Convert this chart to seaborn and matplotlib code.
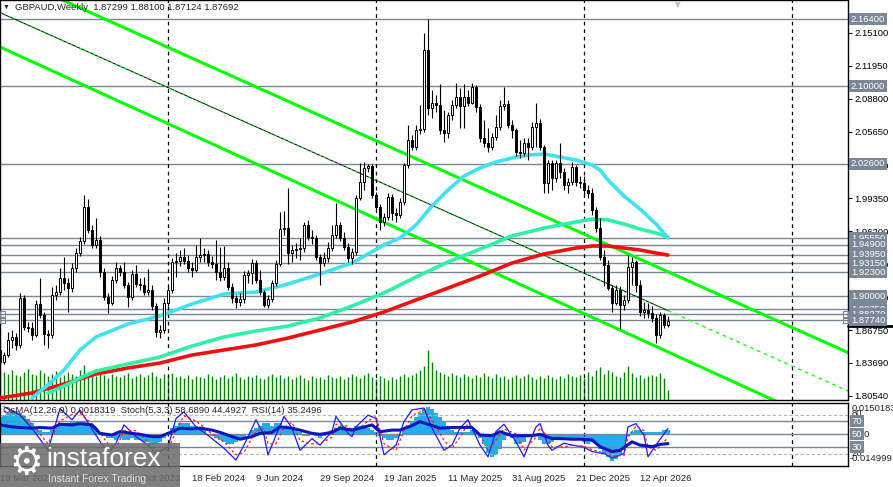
import numpy as np
import matplotlib
matplotlib.use("Agg")
import matplotlib.pyplot as plt
from matplotlib.patches import Rectangle
import seaborn as sns

sns.set_style("white")
plt.rcParams['font.family'] = ['Liberation Sans', 'DejaVu Sans']

# ---------------- data (weekly GBPAUD) ----------------
first_open = 1.8489
close = [
    1.8375, 1.8441, 1.8584, 1.8613, 1.8537, 1.8984, 1.8708, 1.8698, 1.8632, 1.8927,
    1.8822, 1.8641, 1.8632, 1.9013, 1.9041, 1.9174, 1.9127, 1.9079, 1.9270, 1.9412,
    1.9527, 1.9850, 1.9631, 1.9489, 1.9536, 1.9232, 1.8993, 1.8936, 1.9155, 1.9270,
    1.9232, 1.9108, 1.8993, 1.9213, 1.9117, 1.9108, 1.9041, 1.9060, 1.8908, 1.8660,
    1.8679, 1.8936, 1.9060, 1.9327, 1.9336, 1.9374, 1.9336, 1.9270, 1.9251, 1.9374,
    1.9393, 1.9403, 1.9327, 1.9308, 1.9232, 1.9184, 1.9270, 1.9089, 1.8984, 1.8946,
    1.8974, 1.9203, 1.9222, 1.9317, 1.9155, 1.9041, 1.8917, 1.8974, 1.9127, 1.9308,
    1.9641, 1.9650, 1.9412, 1.9441, 1.9450, 1.9460, 1.9679, 1.9565, 1.9555, 1.9374,
    1.9317, 1.9365, 1.9460, 1.9584, 1.9679, 1.9555, 1.9470, 1.9365, 1.9422, 1.9936,
    2.0088, 2.0222, 2.0241, 1.9965, 1.9850, 1.9708, 1.9755, 1.9946, 1.9793, 1.9774,
    1.9898, 2.0250, 2.0488, 2.0422, 2.0583, 2.0593, 2.1345, 2.0793, 2.0840, 2.0821,
    2.0583, 2.0555, 2.0726, 2.0821, 2.0897, 2.0812, 2.0897, 2.0840, 2.0993, 2.0802,
    2.0507, 2.0460, 2.0422, 2.0517, 2.0612, 2.0812, 2.0831, 2.0631, 2.0583, 2.0374,
    2.0364, 2.0460, 2.0422, 2.0612, 2.0650, 2.0422, 2.0079, 2.0269, 2.0126, 2.0269,
    2.0184, 2.0060, 2.0088, 2.0231, 2.0088, 2.0079, 2.0012, 1.9984, 1.9822, 1.9650,
    1.9374, 1.9298, 1.9079, 1.8936, 1.9060, 1.8917, 1.8965, 1.9279, 1.9327, 1.9108,
    1.8851, 1.8870, 1.8841, 1.8794, 1.8632, 1.8822, 1.87299, 1.87692]
high = [
    1.8537, 1.8470, 1.8660, 1.8679, 1.8651, 1.9032, 1.9013, 1.8756, 1.8756, 1.8965,
    1.9174, 1.8851, 1.8679, 1.9089, 1.9108, 1.9270, 1.9374, 1.9174, 1.9317, 1.9460,
    1.9565, 1.9965, 1.9927, 1.9679, 1.9746, 1.9574, 1.9270, 1.9032, 1.9193, 1.9327,
    1.9298, 1.9327, 1.9136, 1.9251, 1.9298, 1.9174, 1.9184, 1.9260, 1.9108, 1.8936,
    1.8727, 1.8984, 1.9098, 1.9365, 1.9412, 1.9441, 1.9460, 1.9393, 1.9327, 1.9489,
    1.9555, 1.9460, 1.9441, 1.9384, 1.9536, 1.9470, 1.9479, 1.9327, 1.9127, 1.9013,
    1.9032, 1.9241, 1.9251, 1.9355, 1.9346, 1.9251, 1.9060, 1.9013, 1.9155, 1.9346,
    1.9803, 1.9812, 2.0031, 1.9489, 1.9508, 1.9555, 1.9708, 1.9727, 1.9631, 1.9584,
    1.9403, 1.9422, 1.9517, 1.9679, 1.9888, 1.9708, 1.9612, 1.9508, 1.9460, 1.9965,
    2.0269, 2.0279, 2.0260, 2.0260, 1.9993, 1.9879, 1.9793, 1.9984, 1.9974, 1.9841,
    1.9936, 2.0269, 2.0631, 2.0536, 2.0631, 2.0821, 2.1507, 2.1640, 2.0964, 2.0917,
    2.1021, 2.0774, 2.0755, 2.0869, 2.1031, 2.0983, 2.1021, 2.0964, 2.1031, 2.1012,
    2.0831, 2.0679, 2.0602, 2.0555, 2.0726, 2.0869, 2.0993, 2.0869, 2.0679, 2.0602,
    2.0488, 2.0507, 2.0507, 2.0660, 2.0840, 2.0688, 2.0441, 2.0298, 2.0298, 2.0298,
    2.0460, 2.0222, 2.0126, 2.0279, 2.0250, 2.0145, 2.0145, 2.0060, 2.0031, 1.9850,
    1.9746, 1.9441, 1.9346, 1.9108, 1.9108, 1.9098, 1.9013, 1.9393, 1.9374, 1.9346,
    1.9155, 1.8946, 1.8936, 1.8908, 1.8832, 1.8851, 1.8841, 1.88100]
low = [
    1.8318, 1.8356, 1.8422, 1.8508, 1.8489, 1.8508, 1.8679, 1.8660, 1.8584, 1.8613,
    1.8794, 1.8537, 1.8508, 1.8603, 1.8965, 1.9013, 1.9060, 1.8851, 1.9041, 1.9232,
    1.9384, 1.9498, 1.9603, 1.9460, 1.9460, 1.9184, 1.8965, 1.8841, 1.8917, 1.9127,
    1.9193, 1.9079, 1.8898, 1.8965, 1.9089, 1.9060, 1.9013, 1.9013, 1.8870, 1.8613,
    1.8603, 1.8651, 1.8908, 1.9032, 1.9184, 1.9289, 1.9308, 1.9232, 1.9184, 1.9232,
    1.9327, 1.9327, 1.9289, 1.9270, 1.9155, 1.9146, 1.9155, 1.9060, 1.8936, 1.8889,
    1.8908, 1.8936, 1.9127, 1.9117, 1.9127, 1.9013, 1.8898, 1.8889, 1.8946, 1.9098,
    1.9289, 1.9584, 1.9308, 1.9327, 1.9365, 1.9346, 1.9422, 1.9536, 1.9498, 1.9346,
    1.9108, 1.9289, 1.9327, 1.9431, 1.9555, 1.9527, 1.9441, 1.9327, 1.9308, 1.9393,
    1.9917, 2.0012, 2.0184, 1.9936, 1.9822, 1.9631, 1.9669, 1.9727, 1.9727, 1.9708,
    1.9746, 1.9869, 2.0222, 2.0393, 2.0393, 2.0545, 2.0564, 2.0726, 2.0698, 2.0755,
    2.0545, 2.0469, 2.0507, 2.0679, 2.0793, 2.0602, 2.0602, 2.0812, 2.0831, 2.0755,
    2.0469, 2.0422, 2.0374, 2.0393, 2.0488, 2.0583, 2.0774, 2.0602, 2.0507, 2.0336,
    2.0317, 2.0336, 2.0298, 2.0393, 2.0422, 2.0393, 1.9984, 1.9984, 2.0012, 2.0088,
    2.0126, 2.0012, 1.9984, 2.0060, 2.0050, 2.0031, 1.9955, 1.9936, 1.9774, 1.9612,
    1.9346, 1.9098, 1.9060, 1.8851, 1.8917, 1.8689, 1.8870, 1.8936, 1.9108, 1.9041,
    1.8813, 1.8794, 1.8794, 1.8756, 1.8556, 1.8603, 1.8698, 1.87124]
volume = [
    30, 28, 26, 30, 25, 24, 28, 31, 26, 25, 30, 27, 24, 26, 29, 23, 25, 28, 26, 24, 30,
    35, 28, 26, 24, 27, 25, 22, 26, 24, 23, 25, 27, 22, 24, 26, 23, 25, 28, 24, 22, 26,
    25, 27, 23, 24, 22, 25, 21, 24, 23, 22, 26, 24, 21, 23, 25, 22, 24, 27, 23, 21, 24,
    23, 25, 22, 21, 24, 26, 23, 25, 22, 24, 21, 23, 25, 22, 20, 24, 22, 23, 21, 25, 23,
    22, 24, 21, 23, 26, 24, 22, 25, 27, 23, 21, 24, 22, 20, 23, 21, 24, 26, 23, 25, 27,
    30, 34, 50, 38, 30, 28, 26, 24, 27, 25, 23, 26, 24, 22, 25, 23, 27, 24, 22, 26, 23,
    24, 21, 23, 25, 22, 24, 26, 23, 21, 24, 22, 25, 23, 21, 24, 22, 26, 24, 23, 25, 22,
    28, 24, 30, 33, 26, 30, 28, 24, 23, 28, 34, 27, 23, 25, 22, 24, 25, 24, 27, 22, 10]

# moving averages (sampled along the curves)
ma_fast_week = [8, 12, 16, 20, 24, 32, 40, 48, 56, 64, 72, 80, 88, 96, 100, 104, 108,
                112, 116, 120, 124, 128, 132, 136, 140, 144, 148, 150, 152, 156, 160, 164, 167]
ma_fast = [1.8032, 1.8156, 1.8299, 1.8489, 1.8613, 1.8737, 1.8813, 1.8927, 1.9022, 1.9041,
           1.9117, 1.9213, 1.9317, 1.9489, 1.9555, 1.9679, 1.9860, 2.0012, 2.0145, 2.0222,
           2.0279, 2.0317, 2.0345, 2.0355, 2.0326, 2.0298, 2.0250, 2.0203, 2.0107, 1.9955,
           1.9831, 1.9689, 1.9555]
ma_mid_week = [12, 16, 20, 24, 32, 40, 48, 56, 64, 72, 80, 88, 96, 104, 112, 120, 128,
               136, 144, 148, 152, 156, 160, 164, 167]
ma_mid = [1.8080, 1.8146, 1.8222, 1.8289, 1.8356, 1.8422, 1.8527, 1.8613, 1.8670, 1.8717,
          1.8794, 1.8908, 1.9032, 1.9184, 1.9327, 1.9450, 1.9574, 1.9650, 1.9708, 1.9736,
          1.9727, 1.9689, 1.9641, 1.9603, 1.9565]
ma_slow_week = [0, 8, 16, 24, 32, 40, 48, 56, 64, 72, 80, 88, 96, 104, 112, 120, 128,
                136, 144, 148, 152, 156, 160, 164, 167]
ma_slow = [1.8032, 1.8080, 1.8165, 1.8261, 1.8318, 1.8365, 1.8441, 1.8489, 1.8537, 1.8603,
           1.8679, 1.8756, 1.8851, 1.8965, 1.9079, 1.9193, 1.9317, 1.9403, 1.9460, 1.9479,
           1.9479, 1.9460, 1.9441, 1.9412, 1.9393]

# trend lines (week, price)
trend_a = ([0, 212], [2.2088, 1.8465])
trend_b = ([0, 212], [2.1374, 1.7689])
trend_c = ([0, 167, 212], [2.1701, 1.8864, 1.8099])

levels = [2.16400, 2.10000, 2.02600, 1.95550, 1.94900, 1.93950, 1.93150, 1.92300,
          1.90000, 1.88750, 1.88270, 1.87740]
price_ticks = [2.15100, 2.11950, 2.08800, 2.05650, 2.02500, 1.99350, 1.96200, 1.93050,
               1.89900, 1.86750, 1.83690, 1.80540]
year_start_week = [42, 94, 146, 198]
date_week = [0, 16, 32, 48, 64, 80, 96, 112, 128, 144, 160]
date_labels = ["19 Mar 2023", "9 Jul 2023", "29 Oct 2023", "18 Feb 2024", "9 Jun 2024",
               "29 Sep 2024", "19 Jan 2025", "11 May 2025", "31 Aug 2025", "21 Dec 2025",
               "12 Apr 2026"]

# indicators
osma = [
    0.008, 0.009, 0.010, 0.011, 0.011, 0.010, 0.009, 0.007, 0.005, 0.003, 0.002,
    0.001, 0.001, 0.002, 0.003, 0.004, 0.005, 0.005, 0.006, 0.006, 0.005, 0.006,
    0.005, 0.004, 0.003, 0.001, -0.001, -0.002, -0.002, -0.003, -0.002, -0.003, -0.003,
    -0.002, -0.003, -0.003, -0.004, -0.004, -0.005, -0.005, -0.004, -0.002, 0.001, 0.003,
    0.004, 0.005, 0.005, 0.005, 0.004, 0.004, 0.003, 0.002, 0.000, -0.001, -0.002,
    -0.003, -0.004, -0.005, -0.005, -0.004, -0.003, -0.002, 0.000, 0.002, 0.003, 0.004,
    0.005, 0.005, 0.004, 0.005, 0.005, 0.004, 0.003, 0.003, 0.002, 0.001, -0.001,
    -0.001, 0.000, -0.001, -0.002, -0.001, 0.000, 0.002, 0.003, 0.004, 0.004, 0.003,
    0.003, 0.004, 0.004, 0.003, 0.003, 0.002, 0.001, -0.001, -0.002, -0.003, -0.003,
    -0.002, -0.001, 0.002, 0.004, 0.006, 0.008, 0.010, 0.012, 0.013, 0.012, 0.010,
    0.008, 0.006, 0.004, 0.002, 0.001, 0.001, 0.001, 0.001, 0.002, 0.001, -0.002,
    -0.005, -0.009, -0.011, -0.010, -0.007, -0.003, -0.001, -0.002, -0.005, -0.005,
    -0.004, -0.001, 0.000, -0.001, -0.003, -0.005, -0.005, -0.004, -0.003, -0.003,
    -0.002, -0.002, -0.003, -0.003, -0.002, -0.004, -0.005, -0.004, -0.005, -0.007,
    -0.009, -0.011, -0.013, -0.012, -0.010, -0.006, -0.001, 0.001, 0.002, 0.002, 0.001,
    0.001, 0.001, 0.001, 0.001, 0.002, 0.0018319]
stoch_week = [1, 5, 8, 12, 15, 18, 20, 24, 27, 29, 31, 34, 37, 39, 42, 44, 46, 49, 52, 56,
              59, 61, 64, 66, 67, 69, 71, 73, 75, 78, 80, 83, 84, 87, 88, 89, 92, 94, 96, 99,
              101, 103, 106, 108, 111, 113, 115, 117, 120, 122, 124, 126, 129, 131, 134, 135,
              137, 138, 141, 143, 146, 148, 151, 153, 156, 157, 159, 161, 162, 164, 167]
stoch_main = [92, 79, 59, 25, 89, 72, 87, 48, 20, 36, 64, 46, 33, 20, 30, 74, 84, 61, 48, 28,
              10, 33, 72, 48, 18, 48, 77, 59, 25, 43, 33, 54, 77, 51, 46, 61, 79, 74, 18, 33,
              69, 87, 90, 59, 25, 33, 59, 72, 33, 15, 54, 65, 38, 15, 61, 66, 33, 25, 36, 33,
              30, 23, 20, 13, 20, 61, 66, 48, 15, 33, 58.689]
stoch_signal = [85, 82, 65, 35, 70, 80, 82, 60, 35, 28, 55, 55, 38, 25, 25, 55, 78, 70, 55, 38,
                18, 22, 55, 58, 35, 35, 60, 68, 40, 35, 35, 45, 65, 62, 55, 55, 70, 77, 35, 25,
                55, 78, 87, 72, 40, 28, 45, 66, 48, 25, 40, 58, 50, 25, 45, 60, 45, 30, 30, 33,
                31, 26, 21, 16, 17, 45, 62, 55, 30, 25, 44.4927]
rsi_week = [0, 3, 5, 8, 10, 13, 15, 18, 20, 23, 25, 28, 30, 33, 35, 38, 40, 43, 45, 48,
            50, 53, 55, 58, 60, 63, 65, 68, 70, 73, 75, 78, 80, 83, 85, 88, 90, 93, 95, 98,
            100, 103, 105, 108, 110, 113, 115, 118, 120, 123, 125, 128, 130, 133, 135, 138,
            140, 143, 145, 148, 150, 153, 155, 158, 160, 163, 165, 167]
rsi = [64, 61, 60, 59, 60, 59, 65, 64, 66, 64, 51, 48.5, 53.6, 51, 49.5, 46, 46, 53.6, 59, 58,
       59, 56, 52.6, 46, 42, 46, 51, 52.6, 61, 59, 56, 51, 49.5, 52.6, 59, 56, 59, 64, 53.6, 56,
       56, 63, 69, 63, 59, 60, 60, 60, 48.5, 47.4, 53.6, 47.4, 47.4, 47.4, 49.5, 43,
       43, 42, 42, 41, 30.5, 23, 25, 38, 33, 30.5, 34, 35.2496]

# ---------------- figure ----------------
W, H = 893, 487
FS = 6.8
fig = plt.figure(figsize=(W / 100, H / 100), dpi=100)


def px_rect(x0, y0, x1, y1):
    return [x0 / W, 1 - y1 / H, (x1 - x0) / W, (y1 - y0) / H]


ax = fig.add_axes(px_rect(0, 0, 848, 400))
axi = fig.add_axes(px_rect(0, 403, 848, 466), sharex=ax)

SLATE = '#7A8797'

# volume under the price
axv = ax.twinx()
axv.set_ylim(0, 400)
axv.axis('off')
ax.set_zorder(axv.get_zorder() + 1)
ax.patch.set_visible(False)
weeks = np.arange(len(close))
axv.vlines(weeks, 0, volume, colors='#008000', lw=1)

ax.set_xlim(0, 212)
ax.set_ylim(1.8013, 2.1821)

for p in levels:
    ax.axhline(p, color=SLATE, lw=1, zorder=1)
for w in year_start_week:
    ax.axvline(w, color='black', lw=0.9, ls=(0, (3, 3)), zorder=1)
    axi.axvline(w, color='black', lw=0.9, ls=(0, (3, 3)), zorder=1)

# trend channel
ax.plot(*trend_a, color='#00FF00', lw=2.2, zorder=2)
ax.plot(*trend_b, color='#00FF00', lw=2.2, zorder=2)
ax.plot(trend_c[0][:2], trend_c[1][:2], color='black', lw=0.7, zorder=2)
ax.plot(trend_c[0][:2], trend_c[1][:2], color='#00FF00', lw=0.7, ls=(0, (2, 3)), zorder=2)
ax.plot(trend_c[0][1:], trend_c[1][1:], color='#00FF00', lw=0.9, ls=(0, (3, 3)), zorder=2)

# moving averages
sns.lineplot(x=ma_slow_week, y=ma_slow, ax=ax, color='#F01010', lw=2.6, zorder=3)
sns.lineplot(x=ma_mid_week, y=ma_mid, ax=ax, color='#2EF0A8', lw=2.6, zorder=3)
sns.lineplot(x=ma_fast_week, y=ma_fast, ax=ax, color='#40E2F2', lw=2.6, zorder=3)

# candles
o = np.array([first_open] + close[:-1])
c = np.array(close)
up = c >= o
ax.vlines(weeks, low, high, color='black', lw=0.8, zorder=4)
ax.bar(weeks[up], (c - o)[up], bottom=o[up], width=0.6, facecolor='white',
       edgecolor='black', lw=0.7, zorder=5)
ax.bar(weeks[~up], (o - c)[~up], bottom=c[~up], width=0.6, facecolor='black',
       edgecolor='black', lw=0.7, zorder=5)

# price axis
ax.yaxis.tick_right()
ax.set_yticks(price_ticks)
ax.set_yticklabels([f'{t:.5f}' for t in price_ticks])
ax.tick_params(axis='y', direction='out', length=3, width=0.8, pad=1.5, labelsize=FS, colors='black')
ax.tick_params(axis='x', bottom=False, labelbottom=False)
ax.set_ylabel('')
for sp in ax.spines.values():
    sp.set_color('black')
    sp.set_linewidth(1)

for k, p in enumerate(levels):
    ax.text(1.0035, p, f'{p:.5f}', transform=ax.get_yaxis_transform(), fontsize=FS,
            color='white', va='center', ha='left', clip_on=False, zorder=10 + k,
            bbox=dict(boxstyle='square,pad=0.18', fc=SLATE, ec='none'))
ax.plot([1.0, 1.055], [1.8717, 1.8717], transform=ax.get_yaxis_transform(), color='black',
        lw=2, clip_on=False, zorder=9)
for yy in (1.8832, 1.8770):
    ax.add_patch(Rectangle((0, yy - 0.0028), 1.2, 0.0056, fill=False, ec=SLATE, lw=0.8, zorder=6))
    ax.add_patch(Rectangle((210.8, yy - 0.0028), 1.2, 0.0056, fill=False, ec=SLATE, lw=0.8,
                           zorder=6, clip_on=False))

# ---------------- indicator window ----------------
axo = axi.twinx()
axo.set_ylim(-0.01524, 0.01476)
axo.axis('off')
axi.set_zorder(axo.get_zorder() + 1)
axi.patch.set_visible(False)
axo.bar(weeks, osma, width=0.8, color='#22AEEE', lw=0)

axi.set_ylim(0.8, 97.7)
for lv in (80, 20):
    axi.axhline(lv, color='#B4B4B4', lw=0.8, ls=(0, (3, 2)))
for lv in (70, 50, 30):
    axi.axhline(lv, color=SLATE, lw=1)
sns.lineplot(x=stoch_week, y=stoch_main, ax=axi, color='#1A1AFF', lw=0.9)
sns.lineplot(x=stoch_week, y=stoch_signal, ax=axi, color='#FF1A1A', lw=0.9, linestyle=(0, (2, 2)))
sns.lineplot(x=rsi_week, y=rsi, ax=axi, color='#1212C0', lw=2.2)

axi.set_yticks([])
axi.set_ylabel('')
axi.set_xticks(date_week)
axi.set_xticklabels(date_labels)
for lbl in axi.get_xticklabels():
    lbl.set_ha('left')
axi.tick_params(axis='x', direction='out', length=3, width=0.8, pad=2.5, labelsize=FS)
for sp in axi.spines.values():
    sp.set_color('black')
    sp.set_linewidth(1)

axi.text(0.004, 0.885, 'OsMA(12,26,9) 0.0018319  Stoch(5,3,3) 58.6890 44.4927  RSI(14) 35.2496',
         transform=axi.transAxes, fontsize=FS, va='center', ha='left', zorder=8)
ytr = axi.get_yaxis_transform()
axi.text(1.004, 90, '0.0150183', transform=ytr, fontsize=FS, va='center', ha='left', clip_on=False)
axi.text(1.004, 81, '80', transform=ytr, fontsize=FS, va='center', ha='left', clip_on=False)
axi.text(1.004, 50, '0.00', transform=ytr, fontsize=FS, va='center', ha='left', clip_on=False)
axi.text(1.004, 20, '20', transform=ytr, fontsize=FS, va='center', ha='left', clip_on=False)
axi.text(1.002, 12, '-0.014999', transform=ytr, fontsize=FS, va='center', ha='left', clip_on=False)
for lv in (70, 50, 30):
    axi.text(1.0045, lv, str(lv), transform=ytr, fontsize=FS, color='white', va='center',
             ha='left', clip_on=False, zorder=10,
             bbox=dict(boxstyle='square,pad=0.15', fc=SLATE, ec='none'))

# header text
fig.text(3 / W, 1 - 7 / H, '▼', fontsize=5, va='center', ha='left')
fig.text(15 / W, 1 - 7 / H, 'GBPAUD,Weekly  1.87299 1.88100 1.87124 1.87692', fontsize=FS,
         va='center', ha='left')
fig.text(677 / W, 1 - 5 / H, '▼', fontsize=7, color='#C0C0C0', va='center', ha='center')

# watermark
fig.patches.append(Rectangle((0, 0), 180 / W, 44 / H, transform=fig.transFigure,
                             fc='#6A6A6A', ec='none', alpha=0.85, zorder=20))
fig.text(26 / W, 1 - 464 / H, '⚙', fontsize=27, color='white', va='center', ha='center', zorder=21)
fig.text(46 / W, 1 - 459 / H, 'instaforex', fontsize=19, color='white', va='center', ha='left',
         zorder=21)
fig.text(48 / W, 1 - 479 / H, 'Instant Forex Trading', fontsize=7.5, color='#E0E0E0',
         va='center', ha='left', zorder=21)

fig.savefig('out.png', dpi=100)
